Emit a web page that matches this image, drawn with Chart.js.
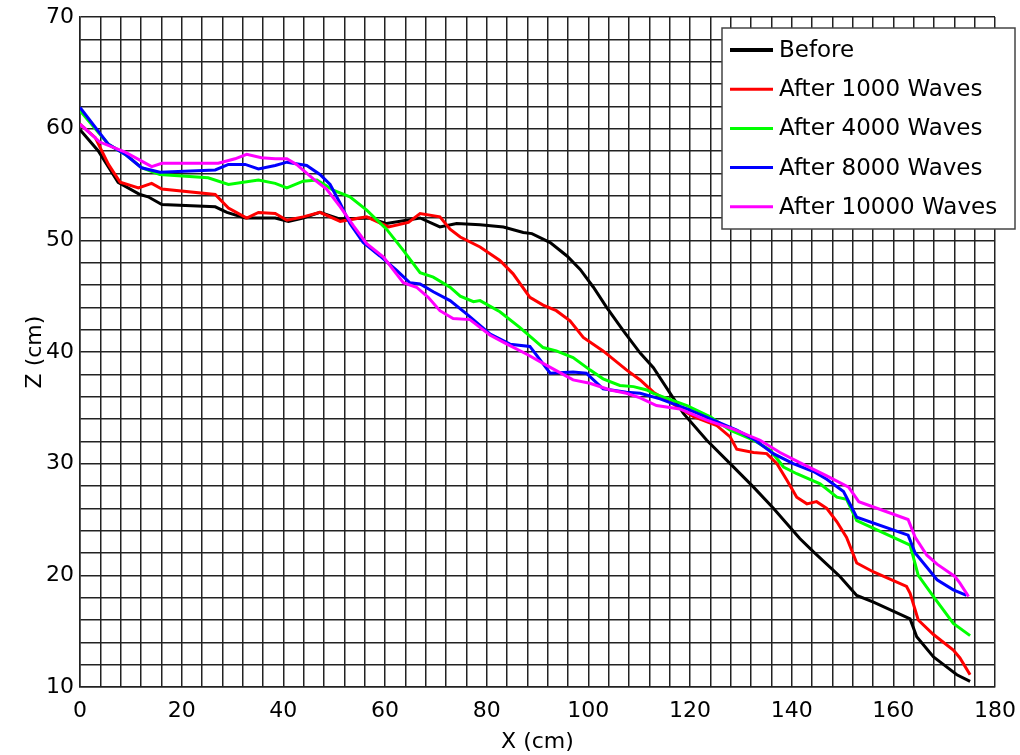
<!DOCTYPE html>
<html lang="en">
<head>
    <meta charset="UTF-8">
    <title>Beach profile</title>
    <script src="https://cdn.jsdelivr.net/npm/chart.js"></script>
    <style>
        body { margin: 0; background: #fff; }
        #wrap { width: 1020px; height: 755px; }
    </style>
</head>
<body>
    <div id="wrap"><canvas id="myChart" width="1020" height="755"></canvas></div>

    <script>
        // profile data (x in cm, z in cm)
        const beforeX = [0, 3.6, 7.5, 11.8, 13.4, 16.1, 26.6, 28.9, 32.5, 38.4, 41, 43.9, 47.2, 51.2, 57, 60.3, 66.9, 70.8, 74.1, 78.7, 83.3, 87.2, 88.9, 92.5, 95.8, 98.4, 101, 103.6, 106.9, 110.2, 112.8, 116.1, 118.7, 123.3, 127.9, 132.5, 136.4, 141.6, 144.3, 149.5, 152.8, 156.1, 163.3, 164.6, 167.9, 169.9, 172.5, 175.1];
        const beforeZ = [59.9, 58.0, 55.2, 54.1, 53.9, 53.2, 53.0, 52.5, 52.0, 52.0, 51.7, 52.0, 52.5, 51.9, 52.0, 51.5, 52.0, 51.2, 51.5, 51.4, 51.2, 50.7, 50.6, 49.8, 48.6, 47.4, 45.8, 44.0, 41.9, 39.9, 38.6, 36.3, 34.5, 32.1, 30.0, 27.9, 26.0, 23.3, 22.1, 19.9, 18.2, 17.6, 16.1, 14.5, 12.7, 12.0, 11.1, 10.5];

        const w1000X = [0, 3.0, 5.6, 7.9, 11.5, 14.1, 16.1, 26.6, 29.2, 32.8, 35.1, 38.4, 40.7, 43.9, 47.2, 51.2, 56.4, 60.7, 64.6, 66.9, 70.8, 72.8, 74.8, 78.7, 82.6, 85.2, 88.5, 91.1, 93.7, 96.4, 99, 102.9, 107.5, 110.2, 112.8, 116.1, 120.7, 125.3, 127.9, 129.2, 132.5, 135.1, 137.1, 139.1, 141, 143, 144.9, 146.9, 148.9, 150.8, 152.8, 156.1, 162.6, 163.3, 164.9, 167.9, 171.8, 173.1, 175.1];
        const w1000Z = [60.4, 59.2, 56.8, 55.2, 54.7, 55.1, 54.6, 54.1, 52.9, 52.0, 52.5, 52.4, 51.8, 52.1, 52.5, 51.7, 52.1, 51.2, 51.6, 52.4, 52.1, 51.0, 50.3, 49.4, 48.2, 47.0, 44.9, 44.2, 43.7, 42.8, 41.3, 40.1, 38.4, 37.5, 36.4, 35.5, 34.2, 33.4, 32.4, 31.3, 31.0, 30.9, 30.0, 28.5, 27.0, 26.4, 26.6, 26.0, 24.8, 23.4, 21.1, 20.3, 19.0, 18.4, 16.0, 14.7, 13.3, 12.6, 11.1];

        const w4000X = [0, 5.6, 8.9, 12.1, 15.7, 25.2, 29.2, 35.1, 38.4, 40.7, 43.9, 46.6, 49.8, 53.1, 56.4, 60.3, 63.6, 66.9, 69.5, 72.8, 74.8, 77.4, 78.7, 82.6, 86.5, 91.1, 93.7, 97, 100.3, 102.9, 106.2, 108.9, 111.5, 112.8, 119.4, 124, 127.9, 132.5, 135.8, 138.4, 141, 145.6, 148.9, 150.8, 152.8, 163.3, 164.9, 167.9, 171.8, 175.1];
        const w4000Z = [61.6, 58.6, 57.7, 56.5, 55.9, 55.6, 55.0, 55.4, 55.1, 54.7, 55.3, 55.4, 54.5, 53.9, 52.7, 51.0, 49.1, 47.1, 46.7, 45.8, 45.0, 44.5, 44.6, 43.6, 42.2, 40.4, 40.1, 39.5, 38.4, 37.6, 37.0, 36.9, 36.6, 36.3, 35.2, 34.2, 33.0, 32.1, 31.2, 29.7, 29.1, 28.2, 27.0, 26.8, 24.9, 22.7, 20.0, 18.1, 15.7, 14.6];

        const w8000X = [0, 5.6, 8.9, 12.1, 15.7, 26.6, 29.2, 32.5, 35.1, 38.4, 40.7, 44.6, 47.2, 49.2, 51.2, 53.1, 55.7, 59, 62.3, 64.9, 66.9, 69.5, 72.8, 76.1, 80.7, 84.6, 88.5, 92.5, 97, 99.6, 102.9, 107.5, 110.2, 114.1, 119.4, 124.6, 129.2, 132.5, 136.4, 140.3, 144.3, 146.9, 150.2, 152.8, 162.9, 164.3, 168.6, 171.8, 174.4];
        const w8000Z = [61.9, 58.6, 57.7, 56.5, 56.1, 56.3, 56.8, 56.8, 56.4, 56.7, 57.0, 56.7, 55.9, 55.0, 53.3, 51.5, 49.8, 48.6, 47.3, 46.2, 46.1, 45.4, 44.6, 43.4, 41.6, 40.7, 40.5, 38.1, 38.2, 38.1, 36.7, 36.4, 36.3, 35.8, 34.9, 33.9, 33.0, 32.2, 30.9, 30.0, 29.3, 28.6, 27.5, 25.2, 23.6, 22.0, 19.6, 18.7, 18.2];

        const w10000X = [0, 3.9, 8.9, 14.1, 16.1, 27.2, 30.5, 32.8, 35.7, 38.4, 40.7, 42.6, 45.9, 48.5, 51.2, 53.8, 56.4, 59.7, 63.6, 66.2, 68.5, 70.8, 73.4, 76.7, 80.7, 84, 87.9, 91.8, 97, 100.3, 104.3, 107.5, 110.2, 113.4, 118, 123.3, 128.5, 133.8, 137.7, 141.6, 146.9, 151.2, 153.2, 162.9, 164.3, 166.6, 168.6, 172.1, 173.1, 174.8];
        const w10000Z = [60.4, 58.8, 57.9, 56.6, 56.9, 56.9, 57.3, 57.7, 57.4, 57.3, 57.3, 56.8, 55.5, 54.6, 53.0, 51.3, 49.7, 48.5, 46.2, 45.8, 44.9, 43.7, 43.0, 42.9, 41.5, 40.7, 39.8, 38.8, 37.5, 37.2, 36.6, 36.3, 35.9, 35.2, 34.9, 33.9, 33.1, 32.1, 31.0, 30.1, 28.9, 27.9, 26.6, 25.0, 23.4, 21.8, 21.0, 19.9, 19.3, 18.1];

        const seriesNames = ['Before', 'After 1000 Waves', 'After 4000 Waves', 'After 8000 Waves', 'After 10000 Waves'];
        const seriesColors = ['#000000', '#ff0000', '#00ff00', '#0000ff', '#ff00ff'];

        const FONT = 'DejaVu Sans, sans-serif';

        function pts(xs, zs) {
            return xs.map((x, i) => ({ x: x, y: zs[i] }));
        }
        const allData = [
            pts(beforeX, beforeZ),
            pts(w1000X, w1000Z),
            pts(w4000X, w4000Z),
            pts(w8000X, w8000Z),
            pts(w10000X, w10000Z)
        ];

        // legend box drawn on top of the grid, inside the plot
        const boxLegend = {
            id: 'boxLegend',
            afterDraw(chart) {
                const c = chart.ctx;
                const left = 722, top = 28, w = 293, h = 201;
                c.save();
                c.fillStyle = '#fff';
                c.fillRect(left, top, w, h);
                c.strokeStyle = '#444';
                c.lineWidth = 1.5;
                c.strokeRect(left, top, w, h);
                c.font = '23px ' + FONT;
                c.textBaseline = 'middle';
                chart.data.datasets.forEach((ds, i) => {
                    const y = 50 + i * 39.2;
                    c.strokeStyle = ds.borderColor;
                    c.lineWidth = i === 0 ? 4 : 3;
                    c.beginPath();
                    c.moveTo(730, y);
                    c.lineTo(773, y);
                    c.stroke();
                    c.fillStyle = '#000';
                    c.fillText(ds.label, 779, y + 1);
                });
                c.restore();
            }
        };

        const ctx = document.getElementById('myChart').getContext('2d');
        const myChart = new Chart(ctx, {
            type: 'line',
            data: {
                datasets: allData.map((d, i) => ({
                    label: seriesNames[i],
                    data: d,
                    borderColor: seriesColors[i],
                    borderWidth: 3,
                    pointRadius: 0,
                    tension: 0,
                    fill: false,
                    order: 5 - i
                }))
            },
            options: {
                responsive: false,
                animation: false,
                layout: { padding: { top: 17, right: 25, left: 0, bottom: 0 } },
                plugins: {
                    legend: { display: false },
                    tooltip: { enabled: false }
                },
                scales: {
                    x: {
                        type: 'linear',
                        min: 0,
                        max: 180,
                        afterFit: s => { s.height = 68; s.paddingLeft = 0; s.paddingRight = 0; },
                        border: { color: '#222', width: 1.5 },
                        grid: { color: '#222', lineWidth: 1.5, drawTicks: false },
                        ticks: {
                            stepSize: 4,
                            autoSkip: false,
                            maxRotation: 0,
                            maxTicksLimit: 100,
                            padding: 11,
                            color: '#000',
                            font: { family: FONT, size: 22 },
                            callback: v => (v % 20 === 0 ? v : '')
                        },
                        title: {
                            display: true,
                            text: 'X (cm)',
                            color: '#000',
                            font: { family: FONT, size: 22 },
                            padding: { top: 0, bottom: 0 }
                        }
                    },
                    y: {
                        min: 10,
                        max: 70,
                        afterFit: s => { s.width = 80; s.paddingTop = 0; s.paddingBottom = 0; },
                        border: { color: '#222', width: 1.5 },
                        grid: { color: '#222', lineWidth: 1.5, drawTicks: false },
                        ticks: {
                            stepSize: 2,
                            autoSkip: false,
                            maxTicksLimit: 100,
                            padding: 6,
                            color: '#000',
                            font: { family: FONT, size: 22 },
                            callback: v => (v % 10 === 0 ? v : '')
                        },
                        title: {
                            display: true,
                            text: 'Z (cm)',
                            color: '#000',
                            font: { family: FONT, size: 22 },
                            padding: { top: 22, bottom: 0 }
                        }
                    }
                }
            },
            plugins: [boxLegend]
        });
    </script>
</body>
</html>
